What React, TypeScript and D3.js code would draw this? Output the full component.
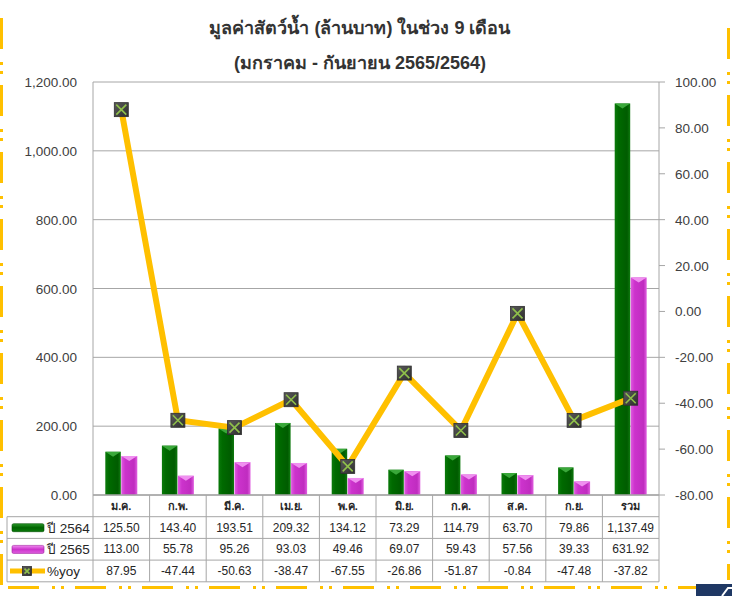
import React from 'react';
import * as d3 from 'd3';

const categories = ['ม.ค.', 'ก.พ.', 'มี.ค.', 'เม.ย.', 'พ.ค.', 'มิ.ย.', 'ก.ค.', 'ส.ค.', 'ก.ย.', 'รวม'];
const value2564 = [125.5, 143.4, 193.51, 209.32, 134.12, 73.29, 114.79, 63.7, 79.86, 1137.49];
const value2565 = [113.0, 55.78, 95.26, 93.03, 49.46, 69.07, 59.43, 57.56, 39.33, 631.92];
const yoy = [87.95, -47.44, -50.63, -38.47, -67.55, -26.86, -51.87, -0.84, -47.48, -37.82];
const leftTicks = [0, 200, 400, 600, 800, 1000, 1200];
const rightTicks = [-80, -60, -40, -20, 0, 20, 40, 60, 80, 100];
const seriesNames = ['ปี 2564', 'ปี 2565', '%yoy'];

const W = 732;
const H = 596;
const plot = { left: 93, right: 659, top: 82, bottom: 495 };
const rowH = 21.7;
const tableLeft = 7;
const font = "Tahoma, 'Liberation Sans', 'Noto Sans', sans-serif";

const fmt = d3.formatLocale({ decimal: '.', thousands: ',', grouping: [3], currency: ['', ''], minus: '-' }).format(',.2f');

const Marker = ({ x, y, s = 14 }: { x: number; y: number; s?: number }) => (
  <g transform={`translate(${x},${y})`}>
    <rect x={-s / 2} y={-s / 2} width={s} height={s} fill="url(#mk)" stroke="#2f2f2f" strokeWidth={0.8} />
    <path
      d={`M${-s / 2 + 2},${-s / 2 + 2}L${s / 2 - 2},${s / 2 - 2}M${s / 2 - 2},${-s / 2 + 2}L${-s / 2 + 2},${s / 2 - 2}`}
      stroke="#8fc04a"
      strokeWidth={1.6}
    />
  </g>
);

export default function App() {
  const x = d3.scaleBand<string>().domain(categories).range([plot.left, plot.right]);
  const yL = d3.scaleLinear().domain([0, 1200]).range([plot.bottom, plot.top]);
  const yR = d3.scaleLinear().domain([-80, 100]).range([plot.bottom, plot.top]);
  const barW = 16;

  const line = d3
    .line<number>()
    .x((_, i) => (x(categories[i]) as number) + x.bandwidth() / 2)
    .y(d => yR(d));

  const rowsY = d3.range(5).map(k => plot.bottom + k * rowH);
  const rowVals = [value2564, value2565, yoy];

  const dashV = '31 13 3 6 3 11';

  return (
    <svg width={W} height={H} style={{ position: 'absolute', left: 0, top: 0, background: '#fff' }} fontFamily={font}>
      <defs>
        <linearGradient id="gG" x1="0" x2="1" y1="0" y2="0">
          <stop offset="0" stopColor="#0a7a0a" />
          <stop offset="0.25" stopColor="#006a00" />
          <stop offset="0.8" stopColor="#005c00" />
          <stop offset="1" stopColor="#0f7a0f" />
        </linearGradient>
        <linearGradient id="gP" x1="0" x2="1" y1="0" y2="0">
          <stop offset="0" stopColor="#e05ae0" />
          <stop offset="0.25" stopColor="#cc33cc" />
          <stop offset="0.8" stopColor="#c02cc0" />
          <stop offset="1" stopColor="#e060e0" />
        </linearGradient>
        <linearGradient id="gGh" x1="0" x2="0" y1="0" y2="1">
          <stop offset="0" stopColor="#2a9a2a" />
          <stop offset="0.5" stopColor="#006400" />
          <stop offset="1" stopColor="#0a7a0a" />
        </linearGradient>
        <linearGradient id="gPh" x1="0" x2="0" y1="0" y2="1">
          <stop offset="0" stopColor="#f08af0" />
          <stop offset="0.5" stopColor="#cc33cc" />
          <stop offset="1" stopColor="#e060e0" />
        </linearGradient>
        <linearGradient id="mk" x1="0" x2="1" y1="0" y2="1">
          <stop offset="0" stopColor="#5a5a5a" />
          <stop offset="1" stopColor="#2e2e2e" />
        </linearGradient>
      </defs>

      {/* dashed frame */}
      <line x1={1.5} x2={1.5} y1={18} y2={H} stroke="#ffc000" strokeWidth={3} strokeDasharray={dashV} />
      <line x1={728.5} x2={728.5} y1={28} y2={580} stroke="#ffc000" strokeWidth={3} strokeDasharray={dashV} />
      <line x1={8} x2={700} y1={587.5} y2={587.5} stroke="#ffc000" strokeWidth={3} strokeDasharray={dashV} />
      <rect x={696} y={584} width={36} height={12} fill="#1f3864" />
      <path d="M722,596 L728,588 L732,588" stroke="#fff" strokeWidth={2} fill="none" />

      {/* title */}
      <text x={360} y={34} textAnchor="middle" fontSize={18} fontWeight="bold" fill="#333">
        มูลค่าสัตว์น้ำ (ล้านบาท) ในช่วง 9 เดือน
      </text>
      <text x={360} y={69} textAnchor="middle" fontSize={18} fontWeight="bold" fill="#333">
        (มกราคม - กันยายน 2565/2564)
      </text>

      {/* grid + left axis */}
      {leftTicks.map(t => (
        <g key={t}>
          <line x1={plot.left} x2={plot.right} y1={yL(t)} y2={yL(t)} stroke="#a6a6a6" strokeWidth={1} />
          <text x={77} y={yL(t) + 5} textAnchor="end" fontSize={13.5} fill="#404040">
            {fmt(t)}
          </text>
        </g>
      ))}
      <line x1={plot.left} x2={plot.left} y1={plot.top} y2={plot.bottom} stroke="#a6a6a6" />

      {/* right axis */}
      <line x1={plot.right} x2={plot.right} y1={plot.top} y2={plot.bottom} stroke="#a6a6a6" />
      {rightTicks.map(t => (
        <g key={t}>
          <line x1={plot.right} x2={plot.right + 6} y1={yR(t)} y2={yR(t)} stroke="#a6a6a6" />
          <text x={675} y={yR(t) + 5} textAnchor="start" fontSize={13.5} fill="#404040">
            {fmt(t)}
          </text>
        </g>
      ))}

      {/* bars */}
      {categories.map((c, i) => {
        const cx = (x(c) as number) + x.bandwidth() / 2;
        const y1 = yL(value2564[i]);
        const y2 = yL(value2565[i]);
        return (
          <g key={c}>
            <rect x={cx - barW} y={y1} width={barW - 0.5} height={plot.bottom - y1} fill="url(#gG)" />
            <path d={`M${cx - barW},${y1} L${cx - 0.5},${y1} L${cx - barW / 2 - 0.25},${y1 + 5} Z`} fill="#3aa83a" />
            <rect x={cx} y={y2} width={barW} height={plot.bottom - y2} fill="url(#gP)" />
            <path d={`M${cx},${y2} L${cx + barW},${y2} L${cx + barW / 2},${y2 + 5} Z`} fill="#f090f0" />
          </g>
        );
      })}
      <line x1={plot.left} x2={plot.right} y1={plot.bottom} y2={plot.bottom} stroke="#a6a6a6" />

      {/* yoy line */}
      <path d={line(yoy) || ''} fill="none" stroke="#ffc000" strokeWidth={6} strokeLinejoin="round" />
      {yoy.map((v, i) => (
        <Marker key={i} x={(x(categories[i]) as number) + x.bandwidth() / 2} y={yR(v)} />
      ))}

      {/* data table */}
      <g stroke="#a6a6a6" strokeWidth={1} fill="none">
        <line x1={plot.left} x2={plot.right} y1={rowsY[0]} y2={rowsY[0]} />
        {rowsY.slice(1).map((ry, k) => (
          <line key={k} x1={tableLeft} x2={plot.right} y1={ry} y2={ry} />
        ))}
        <line x1={tableLeft} x2={tableLeft} y1={rowsY[1]} y2={rowsY[4]} />
        {d3.range(categories.length + 1).map(k => {
          const xx = plot.left + k * x.bandwidth();
          return <line key={k} x1={xx} x2={xx} y1={rowsY[0]} y2={rowsY[4]} />;
        })}
      </g>
      {categories.map(c => (
        <text
          key={c}
          x={(x(c) as number) + x.bandwidth() / 2}
          y={rowsY[0] + 15}
          textAnchor="middle"
          fontSize={11}
          fontWeight="bold"
          fill="#262626"
        >
          {c}
        </text>
      ))}
      {rowVals.map((vals, r) =>
        vals.map((v, i) => (
          <text
            key={`${r}-${i}`}
            x={(x(categories[i]) as number) + x.bandwidth() / 2}
            y={rowsY[r + 1] + 15}
            textAnchor="middle"
            fontSize={12}
            fill="#262626"
          >
            {fmt(v)}
          </text>
        ))
      )}

      {/* legend keys */}
      <rect x={12} y={rowsY[1] + 7} width={32} height={8} rx={1.5} fill="url(#gGh)" stroke="#004d00" strokeWidth={0.6} />
      <rect x={12} y={rowsY[2] + 7} width={32} height={8} rx={1.5} fill="url(#gPh)" stroke="#a020a0" strokeWidth={0.6} />
      <line x1={10} x2={45} y1={rowsY[3] + 11} y2={rowsY[3] + 11} stroke="#ffc000" strokeWidth={5} />
      <Marker x={27} y={rowsY[3] + 11} s={9} />
      {seriesNames.map((n, r) => (
        <text key={n} x={47} y={rowsY[r + 1] + 16} fontSize={13.5} fill="#262626">
          {n}
        </text>
      ))}
    </svg>
  );
}
